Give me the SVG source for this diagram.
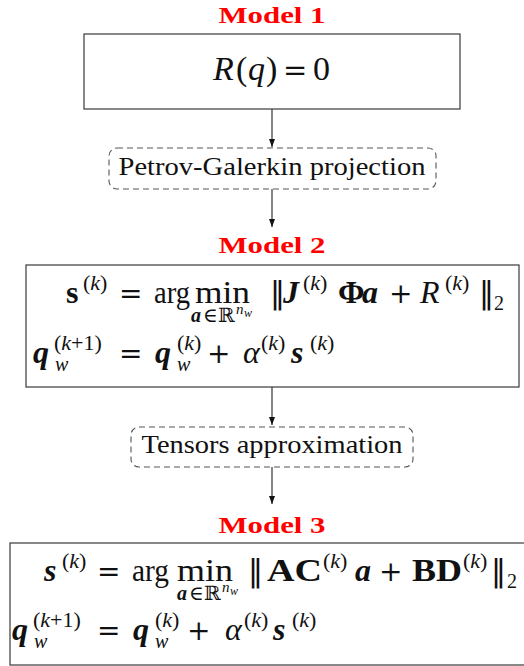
<svg xmlns="http://www.w3.org/2000/svg" width="524" height="666" viewBox="0 0 524 666">
<style>
.box{fill:none;stroke:#3a3a3a;stroke-width:1.2}
.dash{fill:none;stroke:#555;stroke-width:1.1;stroke-dasharray:6 4}
.lbl{font-family:"Liberation Serif","DejaVu Serif",serif;font-weight:bold;fill:#ff0000;font-size:24px}
.txt{font-family:"Liberation Serif","DejaVu Serif",serif;fill:#111;font-size:26px}
.m{font-family:"Liberation Serif","DejaVu Serif",serif;fill:#111;font-size:32px}
.op{font-family:"DejaVu Serif",serif;font-size:28px;font-style:normal;font-weight:normal}
.nm{font-family:"DejaVu Sans",sans-serif;font-size:30px}
.sup{font-size:22px}
.sb{font-size:20px}
.ss{font-size:15px;font-style:italic}
.sw{font-size:12px;font-style:italic}
.b{font-weight:bold}
.bi{font-weight:bold;font-style:italic}
.i{font-style:italic}
.conn{stroke:#222;stroke-width:1.1;fill:none}
</style>
<defs>
<marker id="ah" markerWidth="9" markerHeight="7" refX="8" refY="3" orient="auto" markerUnits="userSpaceOnUse">
<path d="M0,0 L8,3 L0,6 z" fill="#111"/>
</marker>
</defs>
<g id="connectors">
<line class="conn" x1="272" y1="109" x2="272" y2="147" marker-end="url(#ah)"/>
<line class="conn" x1="272" y1="189" x2="272" y2="227" marker-end="url(#ah)"/>
<line class="conn" x1="272" y1="387" x2="272" y2="425" marker-end="url(#ah)"/>
<line class="conn" x1="272" y1="467" x2="272" y2="504" marker-end="url(#ah)"/>
</g>
<g id="model1">
<text class="lbl" x="272" y="23" text-anchor="middle" textLength="107" lengthAdjust="spacingAndGlyphs">Model 1</text>
<rect class="box" x="84" y="34" width="376" height="75"/>
<text class="m" y="80" style="font-size:34px"><tspan class="i" x="213">R</tspan><tspan x="236">(</tspan><tspan class="i" x="248">q</tspan><tspan x="266">)</tspan><tspan class="op" x="283" style="font-size:29px">=</tspan><tspan x="313">0</tspan></text>
</g>
<g id="petrov">
<rect class="dash" x="109" y="148" width="327" height="41" rx="8"/>
<text class="txt" x="272" y="175" text-anchor="middle" textLength="307" lengthAdjust="spacingAndGlyphs">Petrov-Galerkin projection</text>
</g>
<g id="model2">
<text class="lbl" x="272" y="253" text-anchor="middle" textLength="107" lengthAdjust="spacingAndGlyphs">Model 2</text>
<rect class="box" x="26" y="265" width="493" height="122"/>
<text class="m" y="303"><tspan class="b" x="66">s</tspan><tspan class="sup" x="83" y="290">(<tspan class="i">k</tspan>)</tspan><tspan class="op" x="119" y="303">=</tspan><tspan x="154" textLength="36" lengthAdjust="spacingAndGlyphs">arg</tspan><tspan x="195" textLength="55" lengthAdjust="spacingAndGlyphs">min</tspan><tspan class="sb bi" x="191" y="322">a</tspan><tspan class="sb" x="203">∈</tspan><tspan class="sb" x="218">ℝ</tspan><tspan class="ss" x="236" y="314">n</tspan><tspan class="sw" x="244" y="317">w</tspan><tspan class="nm" x="270" y="303">‖</tspan><tspan class="bi" x="283">J</tspan><tspan class="sup" x="303" y="290">(<tspan class="i">k</tspan>)</tspan><tspan class="b" x="338" y="303">Φ</tspan><tspan class="bi" x="362">a</tspan><tspan class="op" x="389">+</tspan><tspan class="i" x="420">R</tspan><tspan class="sup" x="445" y="290">(<tspan class="i">k</tspan>)</tspan><tspan class="nm" x="479" y="303">‖</tspan><tspan class="sb" x="494" y="310">2</tspan></text>
<text class="m" y="363"><tspan class="bi" x="33">q</tspan><tspan class="sup" x="54" y="350">(<tspan class="i">k</tspan>+1)</tspan><tspan class="sb i" x="55" y="371">w</tspan><tspan class="op" x="119" y="363">=</tspan><tspan class="bi" x="155">q</tspan><tspan class="sup" x="177" y="350">(<tspan class="i">k</tspan>)</tspan><tspan class="sb i" x="177" y="371">w</tspan><tspan class="op" x="207" y="363">+</tspan><tspan class="i" x="243">α</tspan><tspan class="sup" x="261" y="350">(<tspan class="i">k</tspan>)</tspan><tspan class="bi" x="291" y="363">s</tspan><tspan class="sup" x="310" y="350">(<tspan class="i">k</tspan>)</tspan></text>
</g>
<g id="tensors">
<rect class="dash" x="131" y="427" width="282" height="40" rx="8"/>
<text class="txt" x="272" y="453" text-anchor="middle" textLength="261" lengthAdjust="spacingAndGlyphs">Tensors approximation</text>
</g>
<g id="model3">
<text class="lbl" x="272" y="533" text-anchor="middle" textLength="107" lengthAdjust="spacingAndGlyphs">Model 3</text>
<rect class="box" x="10" y="543" width="530" height="122"/>
<text class="m" y="581"><tspan class="bi" x="44">s</tspan><tspan class="sup" x="62" y="568">(<tspan class="i">k</tspan>)</tspan><tspan class="op" x="97" y="581">=</tspan><tspan x="132" textLength="37" lengthAdjust="spacingAndGlyphs">arg</tspan><tspan x="177" textLength="56" lengthAdjust="spacingAndGlyphs">min</tspan><tspan class="sb bi" x="177" y="600">a</tspan><tspan class="sb" x="189">∈</tspan><tspan class="sb" x="204">ℝ</tspan><tspan class="ss" x="222" y="592">n</tspan><tspan class="sw" x="230" y="595">w</tspan><tspan class="nm" x="248" y="581">‖</tspan><tspan class="b" x="267" textLength="55" lengthAdjust="spacingAndGlyphs">AC</tspan><tspan class="sup" x="323" y="568">(<tspan class="i">k</tspan>)</tspan><tspan class="bi" x="355" y="581">a</tspan><tspan class="op" x="379">+</tspan><tspan class="b" x="412" textLength="50" lengthAdjust="spacingAndGlyphs">BD</tspan><tspan class="sup" x="463" y="568">(<tspan class="i">k</tspan>)</tspan><tspan class="nm" x="491" y="581">‖</tspan><tspan class="sb" x="507" y="588">2</tspan></text>
<text class="m" y="640"><tspan class="bi" x="12">q</tspan><tspan class="sup" x="33" y="627">(<tspan class="i">k</tspan>+1)</tspan><tspan class="sb i" x="34" y="648">w</tspan><tspan class="op" x="97" y="640">=</tspan><tspan class="bi" x="133">q</tspan><tspan class="sup" x="155" y="627">(<tspan class="i">k</tspan>)</tspan><tspan class="sb i" x="155" y="648">w</tspan><tspan class="op" x="187" y="640">+</tspan><tspan class="i" x="225">α</tspan><tspan class="sup" x="244" y="627">(<tspan class="i">k</tspan>)</tspan><tspan class="bi" x="273" y="640">s</tspan><tspan class="sup" x="292" y="627">(<tspan class="i">k</tspan>)</tspan></text>
</g>
</svg>
